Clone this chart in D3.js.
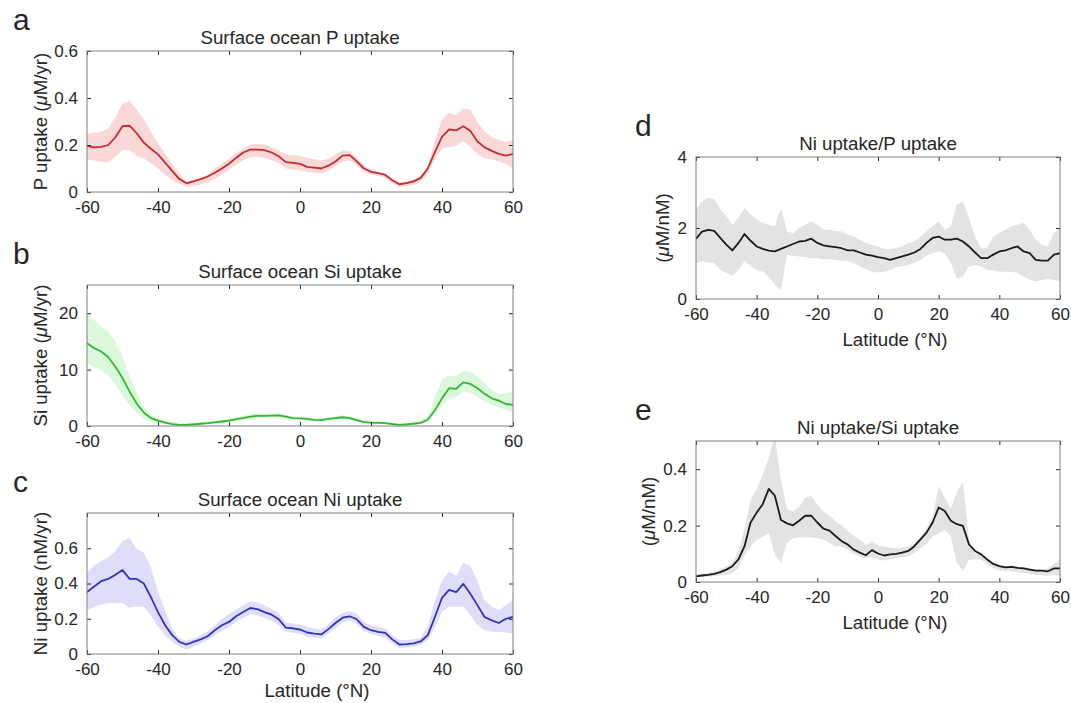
<!DOCTYPE html>
<html>
<head>
<meta charset="utf-8">
<title>Surface ocean uptake</title>
<script src="https://d3js.org/d3.v7.min.js"></script>
<style>
  body { margin: 0; background: #fff; }
  svg text { font-family: "Liberation Sans", Arial, Helvetica, sans-serif; fill: #262626; }
  .tick line { stroke: #262626; }
</style>
</head>
<body>
<script>
// ---- data (2 degree grid) ----
var lat = [-60,-58,-56,-54,-52,-50,-48,-46,-44,-42,
           -40,-38,-36,-34,-32,-30,-28,-26,-24,-22,
           -20,-18,-16,-14,-12,-10,-8,-6,-4,-2,
           0,2,4,6,8,10,12,14,16,18,
           20,22,24,26,28,30,32,34,36,38,
           40,42,44,46,48,50,52,54,56,58,
           60];
var xTicks = [-60, -40, -20, 0, 20, 40, 60];

// a: P uptake (uM/yr)
var pMean = [0.196,0.190,0.192,0.200,0.233,0.280,0.282,0.250,0.210,0.184,
             0.160,0.125,0.090,0.055,0.037,0.045,0.055,0.066,0.082,0.100,
             0.120,0.145,0.168,0.180,0.180,0.178,0.168,0.152,0.127,0.124,
             0.120,0.107,0.104,0.100,0.112,0.130,0.155,0.157,0.130,0.100,
             0.086,0.080,0.073,0.050,0.033,0.038,0.045,0.060,0.100,0.170,
             0.235,0.266,0.262,0.280,0.260,0.215,0.190,0.175,0.162,0.155,
             0.162];
var pHigh = [0.249,0.252,0.256,0.270,0.320,0.375,0.388,0.350,0.310,0.256,
             0.210,0.164,0.120,0.079,0.048,0.050,0.058,0.075,0.100,0.120,
             0.143,0.165,0.185,0.200,0.204,0.202,0.190,0.178,0.160,0.157,
             0.154,0.145,0.140,0.135,0.140,0.160,0.178,0.175,0.145,0.112,
             0.098,0.085,0.080,0.055,0.042,0.046,0.052,0.070,0.108,0.220,
             0.306,0.338,0.327,0.355,0.350,0.298,0.256,0.235,0.220,0.214,
             0.220];
var pLow  = [0.139,0.134,0.129,0.125,0.150,0.178,0.178,0.153,0.143,0.122,
             0.100,0.075,0.051,0.035,0.023,0.025,0.032,0.042,0.055,0.075,
             0.095,0.115,0.135,0.148,0.150,0.145,0.135,0.122,0.100,0.096,
             0.093,0.086,0.082,0.079,0.090,0.110,0.130,0.135,0.112,0.085,
             0.075,0.068,0.060,0.037,0.020,0.025,0.030,0.044,0.079,0.140,
             0.185,0.192,0.197,0.216,0.192,0.161,0.143,0.139,0.130,0.119,
             0.100];
var pTicks = [0, 0.2, 0.4, 0.6];

// b: Si uptake (uM/yr)
var siMean = [14.7,13.8,13.2,12.2,10.5,8.5,6.1,4.0,2.4,1.4,
              0.95,0.6,0.35,0.2,0.2,0.3,0.4,0.5,0.65,0.8,
              0.95,1.2,1.4,1.65,1.8,1.8,1.85,1.9,1.65,1.4,
              1.35,1.25,1.1,1.05,1.25,1.4,1.55,1.4,1.05,0.7,
              0.6,0.55,0.5,0.35,0.2,0.3,0.4,0.55,1.1,2.8,
              4.9,6.7,6.6,7.75,7.45,6.7,5.7,4.9,4.5,3.9,
              3.75];
var siHigh = [20.0,18.8,17.6,16.7,15.0,12.3,8.8,5.8,3.4,2.0,
              1.4,1.0,0.7,0.5,0.5,0.6,0.7,0.8,0.95,1.1,
              1.3,1.55,1.8,2.05,2.2,2.2,2.25,2.3,2.0,1.75,
              1.7,1.55,1.4,1.35,1.55,1.75,1.9,1.75,1.4,1.0,
              0.9,0.85,0.8,0.6,0.45,0.55,0.7,0.9,1.65,5.2,
              8.2,8.9,8.8,9.8,9.6,8.8,7.6,6.4,5.7,5.8,
              6.1];
var siLow  = [11.1,10.4,9.9,9.05,7.3,5.5,3.7,2.25,1.35,0.75,
              0.5,0.3,0.15,0.05,0.05,0.1,0.2,0.3,0.4,0.55,
              0.7,0.9,1.1,1.3,1.45,1.45,1.5,1.55,1.3,1.1,
              1.05,0.95,0.85,0.8,0.95,1.1,1.25,1.1,0.8,0.45,
              0.35,0.3,0.25,0.15,0.05,0.1,0.2,0.3,0.75,2.0,
              3.7,4.9,5.1,6.1,5.9,5.2,4.3,3.7,3.3,2.85,
              2.5];
var siTicks = [0, 10, 20];

// c: Ni uptake (nM/yr)
var niMean = [0.351,0.383,0.413,0.426,0.450,0.476,0.426,0.426,0.400,0.323,
              0.238,0.163,0.107,0.069,0.054,0.069,0.083,0.101,0.135,0.163,
              0.182,0.214,0.238,0.261,0.255,0.238,0.223,0.197,0.150,0.146,
              0.139,0.122,0.116,0.111,0.141,0.176,0.206,0.214,0.197,0.154,
              0.135,0.126,0.120,0.083,0.054,0.056,0.060,0.071,0.107,0.210,
              0.319,0.364,0.351,0.398,0.341,0.276,0.210,0.191,0.176,0.200,
              0.210];
var niHigh = [0.463,0.500,0.529,0.548,0.585,0.641,0.660,0.594,0.576,0.491,
              0.351,0.248,0.144,0.088,0.075,0.088,0.107,0.131,0.163,0.200,
              0.225,0.251,0.276,0.298,0.294,0.276,0.257,0.233,0.178,0.173,
              0.167,0.154,0.144,0.139,0.169,0.210,0.233,0.242,0.229,0.182,
              0.163,0.154,0.144,0.107,0.079,0.079,0.083,0.094,0.154,0.304,
              0.416,0.467,0.444,0.519,0.500,0.416,0.304,0.270,0.248,0.276,
              0.308];
var niLow  = [0.248,0.266,0.281,0.289,0.289,0.289,0.263,0.270,0.266,0.219,
              0.154,0.107,0.069,0.041,0.026,0.041,0.060,0.079,0.107,0.131,
              0.150,0.182,0.206,0.225,0.219,0.206,0.188,0.163,0.126,0.120,
              0.113,0.098,0.092,0.086,0.116,0.144,0.182,0.188,0.169,0.131,
              0.113,0.101,0.094,0.060,0.032,0.036,0.041,0.051,0.079,0.154,
              0.238,0.270,0.266,0.270,0.219,0.163,0.135,0.126,0.126,0.120,
              0.116];
var niTicks = [0, 0.2, 0.4, 0.6];

// d: Ni uptake / P uptake
var npMean = [1.69,1.90,1.95,1.92,1.72,1.53,1.37,1.58,1.83,1.64,
              1.48,1.41,1.36,1.34,1.41,1.48,1.55,1.62,1.64,1.70,
              1.58,1.51,1.48,1.46,1.43,1.37,1.37,1.31,1.25,1.22,
              1.18,1.15,1.10,1.15,1.20,1.25,1.31,1.41,1.58,1.72,
              1.76,1.67,1.67,1.70,1.62,1.48,1.31,1.15,1.15,1.25,
              1.34,1.37,1.43,1.48,1.34,1.29,1.10,1.08,1.08,1.25,
              1.29];
var npHigh = [2.52,2.75,2.85,2.82,2.52,2.33,2.09,2.28,2.57,2.38,
              2.24,2.14,2.09,2.05,2.57,1.90,1.85,2.00,2.09,2.19,
              2.09,1.95,1.95,1.91,1.91,1.81,1.76,1.67,1.58,1.53,
              1.48,1.41,1.41,1.43,1.48,1.58,1.62,1.76,1.91,2.05,
              2.19,1.95,2.05,2.66,2.75,2.28,1.76,1.43,1.43,1.76,
              1.86,1.95,2.05,2.09,2.14,1.95,1.67,1.53,1.48,1.86,
              2.00];
var npLow  = [1.01,1.06,1.03,1.01,0.82,0.73,0.66,0.82,1.08,0.92,
              0.82,0.77,0.63,0.40,0.25,1.25,1.22,1.20,1.18,1.15,
              1.15,1.12,1.12,1.10,1.08,1.06,1.01,0.92,0.84,0.77,
              0.75,0.77,0.82,0.90,0.92,0.96,1.03,1.10,1.22,1.29,
              1.34,1.29,1.01,0.58,0.63,0.92,0.96,0.92,0.82,0.80,
              0.77,0.77,0.77,0.73,0.63,0.54,0.49,0.54,0.56,0.54,
              0.49];
var npTicks = [0, 2, 4];

// e: Ni uptake / Si uptake
var nsMean = [0.020,0.023,0.025,0.029,0.035,0.044,0.056,0.080,0.127,0.211,
              0.246,0.276,0.330,0.306,0.220,0.208,0.201,0.217,0.235,0.235,
              0.211,0.189,0.182,0.163,0.145,0.133,0.115,0.104,0.095,0.113,
              0.101,0.094,0.098,0.100,0.104,0.110,0.127,0.151,0.175,0.211,
              0.264,0.252,0.217,0.205,0.199,0.133,0.110,0.098,0.080,0.064,
              0.056,0.052,0.054,0.050,0.048,0.044,0.040,0.040,0.038,0.048,
              0.048];
var nsHigh = [0.026,0.030,0.033,0.037,0.045,0.055,0.070,0.110,0.190,0.290,
              0.330,0.380,0.440,0.520,0.360,0.260,0.250,0.265,0.300,0.305,
              0.275,0.250,0.235,0.215,0.200,0.180,0.165,0.150,0.130,0.145,
              0.130,0.125,0.122,0.120,0.122,0.126,0.135,0.160,0.190,0.230,
              0.340,0.300,0.260,0.320,0.355,0.150,0.100,0.097,0.080,0.067,
              0.060,0.058,0.058,0.055,0.052,0.050,0.045,0.045,0.048,0.065,
              0.078];
var nsLow  = [0.018,0.019,0.019,0.020,0.023,0.026,0.032,0.049,0.096,0.126,
              0.150,0.160,0.175,0.096,0.067,0.138,0.155,0.159,0.159,0.159,
              0.155,0.150,0.138,0.128,0.126,0.114,0.100,0.090,0.085,0.088,
              0.079,0.076,0.081,0.085,0.088,0.090,0.102,0.120,0.135,0.161,
              0.173,0.185,0.161,0.067,0.038,0.079,0.081,0.079,0.061,0.049,
              0.041,0.038,0.038,0.035,0.032,0.029,0.026,0.024,0.022,0.026,
              0.020];
var nsTicks = [0, 0.2, 0.4];

// ---- layout ----
var svg = d3.select("body").append("svg")
    .attr("width", 1071)
    .attr("height", 703);

var panels = [
  {id: "a", title: "Surface ocean P uptake", ylab: ["P uptake (", "\u03bc", "M/yr)"],
   mean: pMean, hi: pHigh, lo: pLow, yMax: 0.6, yTicks: pTicks,
   line: "#c52d2d", band: "#fad8d8",
   left: 87, top: 51, w: 426, h: 141, ylabX: 47, letterX: 13, xlab: 0},
  {id: "b", title: "Surface ocean Si uptake", ylab: ["Si uptake (", "\u03bc", "M/yr)"],
   mean: siMean, hi: siHigh, lo: siLow, yMax: 25, yTicks: siTicks,
   line: "#33b633", band: "#dcf8dc",
   left: 87, top: 285, w: 426, h: 141, ylabX: 47, letterX: 13, xlab: 0},
  {id: "c", title: "Surface ocean Ni uptake", ylab: ["Ni uptake (nM/yr)"],
   mean: niMean, hi: niHigh, lo: niLow, yMax: 0.8, yTicks: niTicks,
   line: "#3232bf", band: "#dedefb",
   left: 87, top: 513, w: 426, h: 141, ylabX: 47, letterX: 13, xlab: 43},
  {id: "d", title: "Ni uptake/P uptake", ylab: ["(", "\u03bc", "M/nM)"],
   mean: npMean, hi: npHigh, lo: npLow, yMax: 4, yTicks: npTicks,
   line: "#1a1a1a", band: "#e3e3e3",
   left: 696, top: 157, w: 364, h: 142, ylabX: 669, letterX: 635, xlab: 47},
  {id: "e", title: "Ni uptake/Si uptake", ylab: ["(", "\u03bc", "M/nM)"],
   mean: nsMean, hi: nsHigh, lo: nsLow, yMax: 0.5, yTicks: nsTicks,
   line: "#1a1a1a", band: "#e3e3e3",
   left: 696, top: 441, w: 364, h: 141, ylabX: 655, letterX: 635, xlab: 47}
];

panels.forEach(drawPanel);

function drawPanel(p) {
  var x = d3.scaleLinear().domain([-60, 60]).range([p.left, p.left + p.w]);
  var y = d3.scaleLinear().domain([0, p.yMax]).range([p.top + p.h, p.top]);
  var g = svg.append("g").attr("class", "panel-" + p.id);

  // clip the shading to the axes box
  svg.append("clipPath").attr("id", "clip-" + p.id)
    .append("rect")
    .attr("x", p.left).attr("y", p.top)
    .attr("width", p.w).attr("height", p.h);

  var area = d3.area()
      .x(function(d, i) { return x(lat[i]); })
      .y0(function(d, i) { return y(p.lo[i]); })
      .y1(function(d, i) { return y(p.hi[i]); });
  var line = d3.line()
      .x(function(d, i) { return x(lat[i]); })
      .y(function(d) { return y(d); });

  g.append("path")
    .datum(p.mean)
    .attr("clip-path", "url(#clip-" + p.id + ")")
    .attr("fill", p.band)
    .attr("d", area);

  g.append("path")
    .datum(p.mean)
    .attr("clip-path", "url(#clip-" + p.id + ")")
    .attr("fill", "none")
    .attr("stroke", p.line)
    .attr("stroke-width", 1.8)
    .attr("stroke-linejoin", "round")
    .attr("d", line);

  // tick labels
  var fmt = function(d) { return String(d); };
  var bx = g.append("g")
    .attr("transform", "translate(0," + (p.top + p.h) + ")")
    .call(d3.axisBottom(x).tickValues(xTicks).tickSize(0).tickPadding(9).tickFormat(fmt));
  var ly = g.append("g")
    .attr("transform", "translate(" + p.left + ",0)")
    .call(d3.axisLeft(y).tickValues(p.yTicks).tickSize(0).tickPadding(9).tickFormat(fmt));
  [bx, ly].forEach(function(a) {
    a.select(".domain").remove();
    a.selectAll("text").style("font-size", "17px").attr("fill", "#262626");
  });

  // inward tick marks on all four sides (box on)
  var marks = [
    {ax: d3.axisTop(x).tickValues(xTicks), t: "translate(0," + (p.top + p.h) + ")"},
    {ax: d3.axisBottom(x).tickValues(xTicks), t: "translate(0," + p.top + ")"},
    {ax: d3.axisRight(y).tickValues(p.yTicks), t: "translate(" + p.left + ",0)"},
    {ax: d3.axisLeft(y).tickValues(p.yTicks), t: "translate(" + (p.left + p.w) + ",0)"}
  ];
  marks.forEach(function(m) {
    var a = g.append("g").attr("transform", m.t)
      .call(m.ax.tickSize(4).tickFormat(""));
    a.select(".domain").remove();
    a.selectAll(".tick line").attr("stroke", "#262626");
  });

  // axes box
  g.append("rect")
    .attr("x", p.left).attr("y", p.top)
    .attr("width", p.w).attr("height", p.h)
    .attr("fill", "none")
    .attr("stroke", "#808080")
    .attr("stroke-width", 1);

  // title
  g.append("text")
    .attr("x", p.left + p.w / 2)
    .attr("y", p.top - 7)
    .attr("text-anchor", "middle")
    .style("font-size", "18.7px")
    .text(p.title);

  // y label (mu in italic, as the TeX interpreter does)
  var yl = g.append("text")
    .attr("transform", "translate(" + p.ylabX + "," + (p.top + p.h / 2) + ") rotate(-90)")
    .attr("text-anchor", "middle")
    .style("font-size", "18.7px");
  p.ylab.forEach(function(part) {
    yl.append("tspan")
      .style("font-style", part === "\u03bc" ? "italic" : "normal")
      .text(part);
  });

  // x label only on the bottom panels
  if (p.xlab) {
    g.append("text")
      .attr("x", p.left + p.w / 2 + 17)
      .attr("y", p.top + p.h + p.xlab)
      .attr("text-anchor", "middle")
      .style("font-size", "18.7px")
      .text("Latitude (\u00b0N)");
  }

  // panel letter
  g.append("text")
    .attr("x", p.letterX)
    .attr("y", p.top - 21)
    .style("font-size", "30px")
    .text(p.id);
}
</script>
</body>
</html>
